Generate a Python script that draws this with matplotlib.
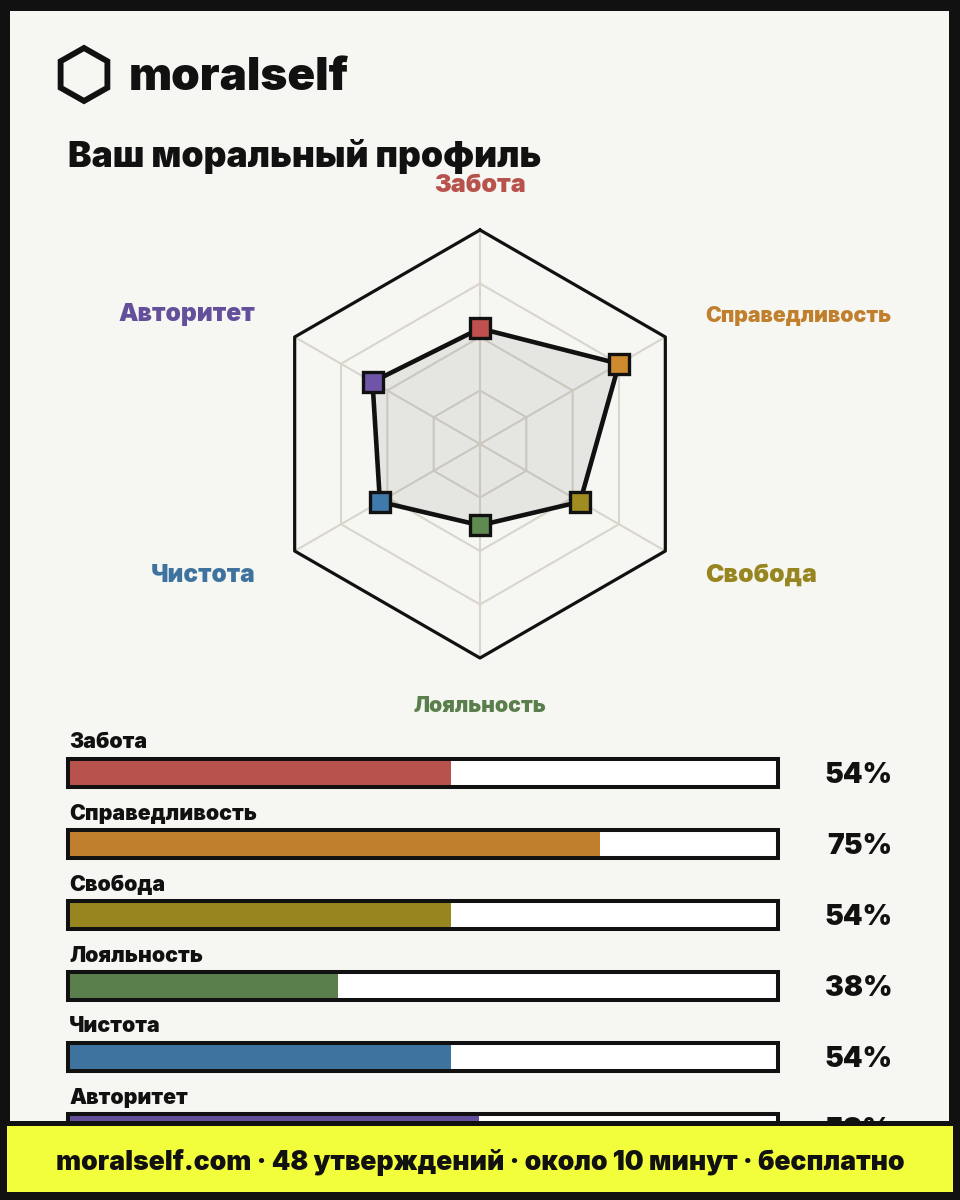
import numpy as np
import matplotlib
matplotlib.use("Agg")
import matplotlib.pyplot as plt
from matplotlib.patches import Rectangle, Polygon

# data
categories = ["Забота", "Справедливость", "Свобода", "Лояльность", "Чистота", "Авторитет"]
values = [54, 75, 54, 38, 54, 58]
colors = ["#b8524c", "#c07f2c", "#978620", "#5b7f4c", "#3f739f", "#64509a"]
marker_colors = ["#c04f4f", "#d08a2e", "#a08c20", "#5f8a50", "#4079ac", "#6f55a8"]
label_pos = [(480, 186, "center"), (705, 316, "left"), (705, 575, "left"),
             (480, 706, "center"), (255, 575, "right"), (255, 315, "right")]
label_size = [25, 21.3, 24.8, 21.3, 24.4, 24.6]
rings = [25, 50, 75, 100]

INK = "#111111"
PAPER = "#f6f6f2"
W, H = 960, 1200
FONT = ["Inter", "Roboto", "DejaVu Sans"]


def px_axes(fig, x0, y0, x1, y1, **kw):
    # axes from pixel box, y measured from the top of the image
    return fig.add_axes([x0 / W, 1 - y1 / H, (x1 - x0) / W, (y1 - y0) / H], **kw)


plt.rcParams["font.family"] = FONT
plt.rcParams["font.weight"] = "black"

fig = plt.figure(figsize=(9.6, 12), dpi=100, facecolor=INK)

# page
bg = px_axes(fig, 0, 0, W, H)
bg.set_xlim(0, W)
bg.set_ylim(H, 0)
bg.axis("off")
bg.set_zorder(0)
bg.add_patch(Rectangle((10, 11), 939, 1130, fc=PAPER, ec="none"))

# logo
angles = np.radians(np.arange(6) * 60)
hex_xy = np.column_stack([84 + 27 * np.sin(angles), 74.5 + 26.5 * np.cos(angles)])
bg.add_patch(Polygon(hex_xy, closed=True, fc="none", ec=INK, lw=4.2, joinstyle="miter"))
bg.text(128.5, 90, "moralself", fontsize=33, color=INK, va="baseline", ha="left")
bg.text(68, 167, "Ваш моральный профиль", fontsize=25.5, color=INK, va="baseline", ha="left")

for name, c, (x, y, ha), s in zip(categories, colors, label_pos, label_size):
    bg.text(x, y, name, color=c, fontsize=s * 0.72, ha=ha, va="center")

# radar
R = 214
radar = px_axes(fig, 480 - R, 444 - R, 480 + R, 444 + R, projection="polar")
radar.set_theta_zero_location("N")
radar.set_theta_direction(-1)
radar.set_ylim(0, 100)
radar.axis("off")
radar.patch.set_alpha(0)
radar.set_zorder(1)

theta = np.radians(np.arange(6) * 60)
theta_c = np.append(theta, theta[0])
for r in rings[:-1]:
    radar.plot(theta_c, [r] * 7, color="#d9d5cc", lw=1.5, zorder=1)
for t in theta:
    radar.plot([t, t], [0, 100], color="#d9d5cc", lw=1.5, zorder=1)
radar.plot(theta_c, [100] * 7, color=INK, lw=2.3, zorder=2, clip_on=False)

vals_c = np.append(values, values[0])
radar.fill(theta_c, vals_c, color="#111111", alpha=0.07, lw=0, zorder=3)
radar.plot(theta_c, vals_c, color=INK, lw=3.3, zorder=4, solid_joinstyle="miter")
for t, v, c in zip(theta, values, marker_colors):
    radar.plot([t], [v], marker="s", ms=14.6, mfc=c, mec=INK, mew=2.4, zorder=5, clip_on=False)

# bars, x runs 0..100 over the inner track width
bars = px_axes(fig, 70, 756, 776, 756 + 71 * 6)
bars.set_xlim(0, 100)
bars.set_ylim(6, 0)
bars.axis("off")
bars.patch.set_alpha(0)
bars.set_zorder(2)
bar_h = 27.5 / 71
y_pos = np.arange(6) + 17 / 71
bars.barh(y_pos, [100] * 6, height=bar_h, color="white", edgecolor=INK, lw=0, clip_on=False)
bars.barh(y_pos, values, height=bar_h, color=colors, clip_on=False, zorder=2)
for y in y_pos:
    bars.add_patch(Rectangle((-0.25, y - bar_h / 2 - 0.01), 100.5, bar_h + 0.02, fc="none", ec=INK,
                             lw=2.9, clip_on=False, zorder=3, joinstyle="miter"))
pct_x = (892 - 70) / 706 * 100
for y, name, v in zip(y_pos, categories, values):
    bars.text(-0.1, y - 30.5 / 71, name, fontsize=15.4, color=INK, va="center", ha="left")
    bars.text(pct_x, y + 2.5 / 71, f"{v}%", fontsize=20.3, color=INK, va="center", ha="right", clip_on=False)

# banner
banner = px_axes(fig, 0, 1121, W, H)
banner.set_xlim(0, W)
banner.set_ylim(H, 1121)
banner.axis("off")
banner.set_zorder(3)
banner.add_patch(Rectangle((0, 1121), W, 79, fc=INK, ec="none"))
banner.add_patch(Rectangle((7, 1126), 946, 66, fc="#f2fd3c", ec="none"))
banner.text(480, 1162, "moralself.com · 48 утверждений · около 10 минут · бесплатно",
            fontsize=19.1, color=INK, ha="center", va="center")

fig.savefig("out.png", dpi=100, facecolor=fig.get_facecolor())
